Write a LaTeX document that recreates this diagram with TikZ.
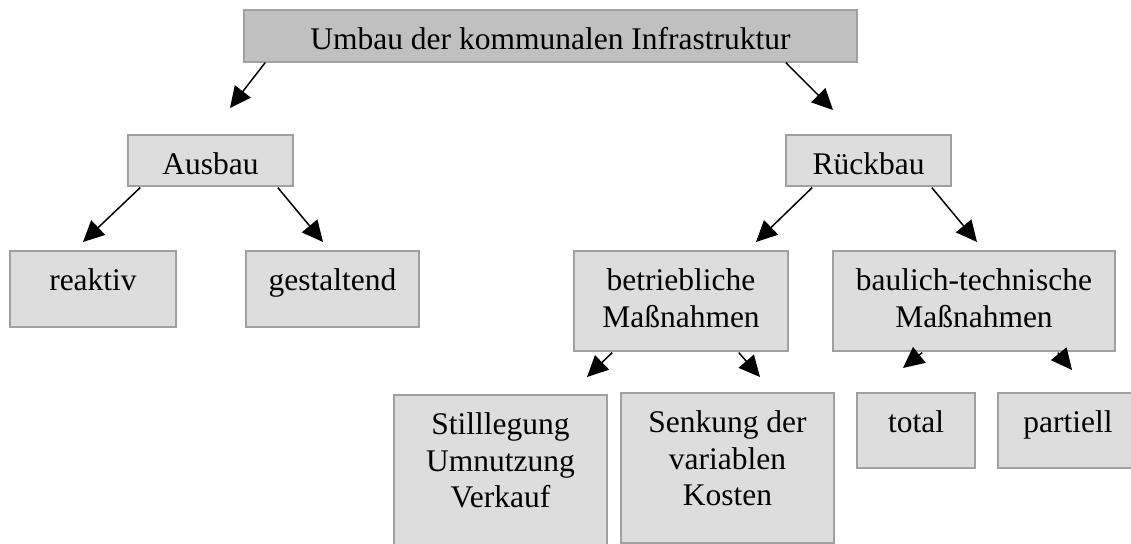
\documentclass[tikz,border=0pt]{standalone}
\usepackage{fontspec}
\setmainfont{Liberation Serif}
\usetikzlibrary{arrows.meta,calc}
\definecolor{rahmen}{HTML}{A0A0A0}
\definecolor{hell}{HTML}{DDDDDD}
\definecolor{dunkel}{HTML}{C0C0C0}
\tikzstyle{kasten}=[draw=rahmen, line width=0.8pt, fill=hell, anchor=north,
    inner sep=0pt, align=flush center, text height=20pt,
    font=\fontsize{15.75}{18.25}\selectfont]
\newcommand{\kasten}{\node[kasten]}

\begin{document}
\begin{tikzpicture}[x=0.5pt, y=-0.5pt
    ,every edge/.style={draw, line width=0.75pt,
                        -{Triangle[length=10.5pt,width=10pt]}}
]
\useasboundingbox (0,0) rectangle (1131,543);
\kasten[fill=dunkel, text width=306.5pt, text depth=6pt] (top) at (550.5,9)
    {Umbau der kommunalen Infrastruktur};
\kasten[text width=82.5pt, text depth=5.5pt] (ausbau) at (210.5,134) {Ausbau};
\kasten[text width=82.5pt, text depth=5.5pt] (rueckbau) at (868.5,134) {Rückbau};
\kasten[text width=83pt, text depth=18pt] (reaktiv) at (93,250) {reaktiv};
\kasten[text width=86.5pt, text depth=18pt] (gestalt) at (332.5,250) {gestaltend};
\kasten[text width=107pt, text depth=30pt] (betrieb) at (681,250)
    {betriebliche\\Maßnahmen};
\kasten[text width=141pt, text depth=30pt] (baulich) at (974,250)
    {baulich-technische\\Maßnahmen};
\kasten[text width=106.5pt, text depth=63pt] (still) at (500.5,394)
    {Stilllegung\\Umnutzung\\Verkauf};
\kasten[text width=106.5pt, text depth=55pt] (senkung) at (727.5,392)
    {Senkung der\\variablen\\Kosten};
\kasten[text width=59pt, text depth=17.5pt] (total) at (916,392) {total};
\kasten[text width=70pt, text depth=17.5pt] (partiell) at (1068,392) {partiell};
\path
($(top.south west)+(22,0)$) edge ($(ausbau.north)+(19.5,-26)$)
($(top.south east)+(-72,0)$) edge ($(rueckbau.north)+(-35.5,-24)$)
($(ausbau.south west)+(13,1)$) edge ($(reaktiv.north)+(-10,-8)$)
($(ausbau.south east)+(-16,1)$) edge ($(gestalt.north)+(-9.5,-8)$)
($(rueckbau.south west)+(27,1)$) edge ($(betrieb.north)+(75,-8)$)
($(rueckbau.south east)+(-20,1)$) edge ($(baulich.north)+(3,-8)$)
($(betrieb.south west)+(39,1)$) edge ($(still.north)+(86.5,-17)$)
($(betrieb.south east)+(-50,1)$) edge ($(senkung.north)+(32.5,-15)$)
($(baulich.south west)+(90,1)$) edge ($(total.north)+(-13,-24)$)
($(baulich.south east)+(-58,1)$) edge ($(partiell.north)+(4,-22)$)
;
\end{tikzpicture}
\end{document}
